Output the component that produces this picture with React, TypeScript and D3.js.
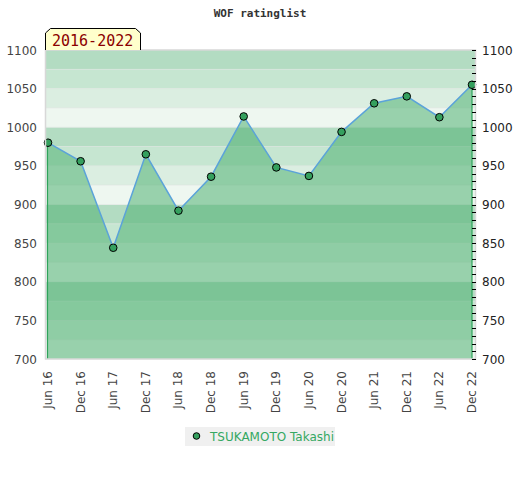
import React from 'react';
import * as d3 from 'd3';

const periods = ['Jun 16', 'Dec 16', 'Jun 17', 'Dec 17', 'Jun 18', 'Dec 18', 'Jun 19', 'Dec 19', 'Jun 20', 'Dec 20', 'Jun 21', 'Dec 21', 'Jun 22', 'Dec 22'];
const ratings = [980, 956, 844, 965, 892, 936, 1014, 948, 937, 994, 1031, 1040, 1013, 1055];
const yTicks = [700, 750, 800, 850, 900, 950, 1000, 1050, 1100];
const playerName = 'TSUKAMOTO Takashi';
const rangeLabel = '2016-2022';
const title = 'WOF ratinglist';

const W = 520;
const H = 480;
const plot = { left: 45.5, right: 475.5, top: 50, bottom: 359 };

// band shades, repeating every 100 points (top of block first)
const bandShades = ['#b3dcc2', '#c6e6d1', '#dbeee1', '#eef7f0'];

export default function App() {
    const x = d3.scalePoint<string>().domain(periods).range([48, 472]);
    const y = d3.scaleLinear().domain([700, 1100]).range([plot.bottom, plot.top]);

    const bands = d3.range(700, 1100, 25);
    const minor = d3.range(700, 1101, 10);

    const pts = periods.map((p, i) => ({ p, v: ratings[i] }));
    const area = d3.area<{ p: string; v: number }>()
        .x(d => x(d.p)!)
        .y0(y(700))
        .y1(d => y(d.v));
    const line = d3.line<{ p: string; v: number }>()
        .x(d => x(d.p)!)
        .y(d => y(d.v));

    const first = pts[0];
    const last = pts[pts.length - 1];

    return (
        <svg width={W} height={H} style={{ position: 'absolute', left: 0, top: 0, background: '#fff' }}>
            <text x={260} y={17} textAnchor="middle" fontFamily="DejaVu Sans Mono" fontWeight="bold" fontSize={11} fill="#333">{title}</text>

            {/* background bands */}
            {bands.map(b => {
                const idx = 3 - ((b % 100) / 25);
                return (
                    <rect key={b} x={plot.left} y={y(b + 25)} width={plot.right - plot.left} height={y(b) - y(b + 25)} fill={bandShades[idx]} />
                );
            })}
            {bands.slice(1).map(b => (
                <line key={'g' + b} x1={plot.left} x2={plot.right} y1={y(b)} y2={y(b)} stroke="#e6e6e6" strokeOpacity={0.5} />
            ))}

            {/* area + line */}
            <path d={area(pts)!} fill="rgb(73,174,109)" fillOpacity={0.52} />
            <line x1={x(first.p)! - 0.5} x2={x(first.p)! - 0.5} y1={y(first.v)} y2={y(700)} stroke="#2ea35a" strokeWidth={1.2} />
            <line x1={x(last.p)!} x2={x(last.p)!} y1={y(last.v)} y2={y(700)} stroke="#2ea35a" strokeWidth={1.2} />
            <path d={line(pts)!} fill="none" stroke="#5ba3d9" strokeWidth={1.5} />
            {pts.map(d => (
                <circle key={d.p} cx={x(d.p)} cy={y(d.v)} r={3.8} fill="#35a05e" stroke="#000" strokeWidth={1} />
            ))}

            {/* frame */}
            <rect x={plot.left} y={plot.top} width={plot.right - plot.left} height={plot.bottom - plot.top} fill="none" stroke="#d8d8d8" strokeWidth={1.5} />

            {/* left axis */}
            {yTicks.map(t => (
                <text key={'l' + t} x={37} y={y(t) + 4.5} textAnchor="end" fontFamily="DejaVu Sans" fontSize={12} fill="#444">{t}</text>
            ))}
            {/* right axis */}
            {minor.map(t => (
                <line key={'m' + t} x1={472} x2={476} y1={Math.round(y(t)) + 0.5} y2={Math.round(y(t)) + 0.5} stroke="#000" />
            ))}
            {yTicks.map(t => (
                <text key={'r' + t} x={482} y={y(t) + 4.5} textAnchor="start" fontFamily="DejaVu Sans" fontSize={12} fill="#222">{t}</text>
            ))}

            {/* x labels */}
            {periods.map(p => (
                <text key={'x' + p} transform={`translate(${x(p)! + 4},371) rotate(-90)`} textAnchor="end" fontFamily="DejaVu Sans" fontSize={12} fill="#444">{p}</text>
            ))}

            {/* period label */}
            <path d="M45.5,50 L45.5,33 L50.5,28.5 L135.5,28.5 L140.5,33 L140.5,50" fill="#ffffcc" stroke="#000" strokeWidth={1} />
            <text x={52} y={46} fontFamily="DejaVu Sans Mono" fontSize={15} fill="#8b0000">{rangeLabel}</text>

            {/* legend */}
            <rect x={185} y={427} width={150} height={19} fill="#f0f0f0" />
            <circle cx={196.5} cy={436} r={3.3} fill="#35a05e" stroke="#000" strokeWidth={1} />
            <text x={210} y={441} fontFamily="DejaVu Sans" fontSize={12} fill="#35a862">{playerName}</text>
        </svg>
    );
}
